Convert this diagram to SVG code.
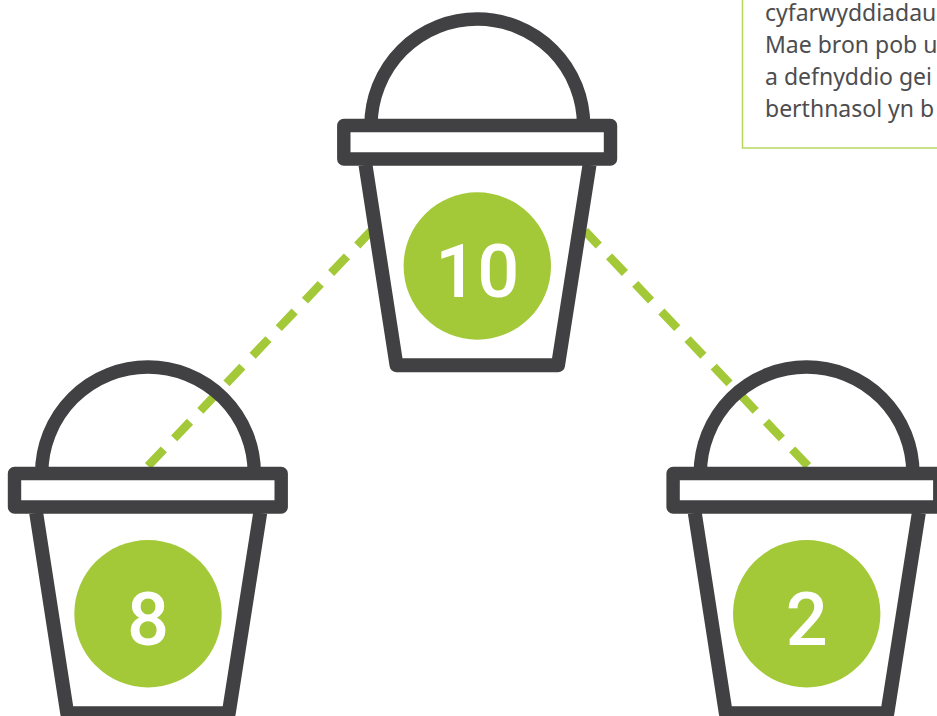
<svg xmlns="http://www.w3.org/2000/svg" width="937" height="716" viewBox="0 0 937 716">
<style>
.ln{fill:none;stroke:#414042;stroke-width:13.4;stroke-linejoin:round}
.wall{stroke-width:14}
.num{font-family:Roboto,"Liberation Sans",sans-serif;font-size:74px;font-weight:500;fill:#fff;text-anchor:middle}
.dot{fill:#a3c939}
.dash{fill:none;stroke:#a3c939;stroke-width:8.5;stroke-dasharray:23 15}
.note{font-family:"Noto Sans","Open Sans",sans-serif;font-size:23px;fill:#4d4d4f}
</style>
<defs>
<g id="bucket">
<path class="ln" d="M371 125.3A106.3 106.3 0 0 1 583.6 125.3"/>
<path class="ln wall" d="M365.5 165L396.5 365.3H558L589.5 165"/>
<rect class="ln" x="343.8" y="125.5" width="266.7" height="33.5"/>
</g>
</defs>
<rect width="937" height="716" fill="#fff"/>
<g id="note">
<rect x="742.5" y="-40" width="260" height="188" fill="#fff" stroke="#b7d65f" stroke-width="1.5"/>
<text class="note" x="765" y="21">cyfarwyddiadau</text>
<text class="note" x="765" y="53">Mae bron pob u</text>
<text class="note" x="765" y="85">a defnyddio gei</text>
<text class="note" x="765" y="117">berthnasol yn b</text>
</g>
<g id="connectors">
<path class="dash" d="M148 466L371 231"/>
<path class="dash" d="M808 466L585 231"/>
</g>
<g id="node-10">
<use href="#bucket"/>
<circle class="dot" cx="477.3" cy="266" r="73.7"/>
<text class="num" x="477.3" y="296.5">10</text>
</g>
<g id="node-8">
<use href="#bucket" x="-329.3" y="348"/>
<circle class="dot" cx="148" cy="613.7" r="73.7"/>
<text class="num" x="148" y="644.5">8</text>
</g>
<g id="node-2">
<use href="#bucket" x="329.3" y="348"/>
<circle class="dot" cx="806.7" cy="613.7" r="73.7"/>
<text class="num" x="806.7" y="644.5">2</text>
</g>
</svg>
